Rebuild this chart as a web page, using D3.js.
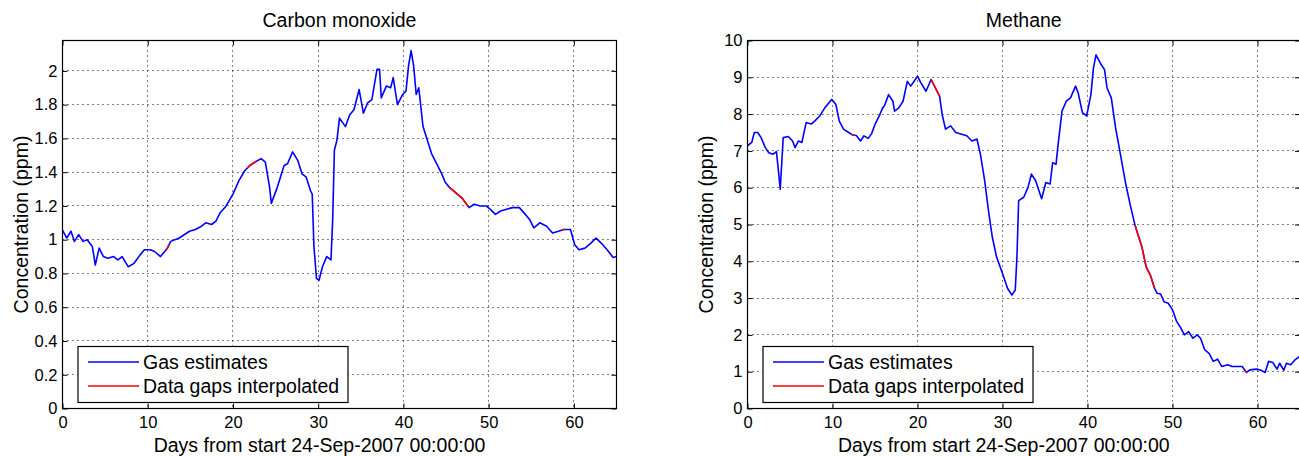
<!DOCTYPE html>
<html>
<head>
<meta charset="utf-8">
<script src="https://cdn.jsdelivr.net/npm/d3@7"></script>
<style>
  body { margin: 0; background: #fff; }
  svg { display: block; font-family: "Liberation Sans", Arial, sans-serif; }
</style>
</head>
<body>
<svg id="chart" width="1299" height="456"></svg>
<script>
// Shared axis ticks
const xTicks = [0, 10, 20, 30, 40, 50, 60];
const coTicks = [0, 0.2, 0.4, 0.6, 0.8, 1, 1.2, 1.4, 1.6, 1.8, 2];
const ch4Ticks = [0, 1, 2, 3, 4, 5, 6, 7, 8, 9, 10];
const legendLabels = ["Gas estimates", "Data gaps interpolated"];

// Carbon monoxide (ppm) vs day
const coDays = [
  0, 0.5, 1, 1.4, 1.9, 2.4, 2.9, 3.5, 3.85, 4.3,
  4.8, 5.3, 6, 6.5, 7, 7.7, 8.4, 9.1, 9.6, 10.3,
  10.8, 11.5, 12.3, 12.7, 13.7, 14.9, 15.6, 16.3, 16.8, 17.5,
  18, 18.5, 19.2, 20, 20.7, 21.4, 22, 22.6, 23.3, 23.8,
  24.3, 24.5, 25.2, 26, 26.4, 27, 27.6, 28.1, 28.6, 29.1,
  29.3, 29.5, 29.8, 30.1, 30.5, 31, 31.5, 31.7, 31.9, 32.2,
  32.5, 33.2, 33.7, 34.2, 34.8, 35.3, 35.8, 36.3, 36.9, 37.2,
  37.4, 38, 38.5, 38.8, 39.3, 39.9, 40.3, 40.6, 40.9, 41.2,
  41.5, 41.8, 42.3, 42.8, 43.3, 44, 44.5, 44.9, 45.4, 46.9,
  47.7, 48.3, 49, 49.7, 50.2, 50.8, 51.4, 52.1, 52.8, 53.6,
  54.3, 54.8, 55.3, 56, 56.8, 57.5, 58.2, 58.8, 59.6, 60.1,
  60.6, 61.3, 62, 62.6, 63.2, 63.9, 64.6, 65
];
const coValues = [
  1.057, 1.01, 1.05, 0.99, 1.03, 0.99, 1.0, 0.96, 0.85, 0.95,
  0.90, 0.89, 0.90, 0.88, 0.90, 0.84, 0.86, 0.91, 0.94, 0.94,
  0.93, 0.90, 0.95, 0.99, 1.01, 1.05, 1.06, 1.08, 1.10, 1.09,
  1.11, 1.16, 1.20, 1.27, 1.35, 1.41, 1.44, 1.46, 1.48, 1.46,
  1.31, 1.215, 1.31, 1.44, 1.45, 1.52, 1.47, 1.39, 1.37, 1.29,
  1.27, 0.96, 0.77, 0.76, 0.84, 0.90, 0.88, 1.12, 1.53, 1.59,
  1.72, 1.67, 1.74, 1.77, 1.89, 1.75, 1.81, 1.83, 2.01, 2.01,
  1.84, 1.91, 1.90, 1.96, 1.80, 1.86, 1.88, 2.03, 2.12, 2.03,
  1.86, 1.90, 1.67, 1.59, 1.51, 1.44, 1.39, 1.34, 1.31, 1.245,
  1.19, 1.21, 1.20, 1.20, 1.18, 1.15, 1.17, 1.18, 1.19, 1.19,
  1.15, 1.12, 1.07, 1.10, 1.08, 1.04, 1.05, 1.06, 1.06, 0.97,
  0.94, 0.95, 0.98, 1.01, 0.98, 0.94, 0.895, 0.90
];
const coGaps = [[12.2, 12.5], [21.7, 22.8], [45.4, 47.6], [58.6, 58.9]];

// Methane (ppm) vs day
const ch4Days = [
  0, 0.5, 0.8, 1.2, 1.6, 2.1, 2.5, 3, 3.4, 3.6,
  3.85, 4, 4.2, 4.8, 5.3, 5.6, 6, 6.4, 6.9, 7.5,
  7.9, 8.5, 9.1, 9.9, 10.4, 10.8, 11.3, 11.9, 12.4, 12.8,
  13.3, 13.7, 14.2, 14.6, 15, 15.5, 15.9, 16.1, 16.6, 17.1,
  17.3, 17.8, 18.3, 18.8, 19.2, 20, 20.4, 21, 21.6, 22.6,
  22.9, 23.3, 23.9, 24.5, 25.2, 25.8, 26.4, 27, 27.4, 27.9,
  28.4, 28.8, 29.3, 30, 30.6, 31.1, 31.5, 31.7, 31.9, 32.5,
  33, 33.4, 33.9, 34.6, 35.1, 35.6, 35.9, 36.3, 36.5, 37,
  37.5, 38, 38.6, 38.9, 39.4, 39.9, 40.4, 40.7, 41, 41.5,
  42, 42.3, 42.8, 43.3, 43.8, 44.5, 45, 45.6, 46.4, 46.9,
  47.4, 47.9, 48.2, 48.6, 49, 49.5, 50, 50.5, 51, 51.4,
  51.9, 52.4, 52.9, 53.3, 53.8, 54.3, 54.8, 55.3, 55.8, 56.5,
  57, 57.7, 58.2, 58.7, 59.1, 59.9, 60.4, 60.9, 61.3, 61.8,
  62.3, 62.6, 63.1, 63.4, 63.9, 64.4, 65
];
const ch4Values = [
  7.14, 7.23, 7.5, 7.5, 7.36, 7.09, 6.95, 6.91, 6.98, 6.55,
  5.96, 6.55, 7.36, 7.39, 7.27, 7.09, 7.27, 7.23, 7.77, 7.73,
  7.81, 7.95, 8.17, 8.40, 8.26, 7.81, 7.59, 7.5, 7.43, 7.42,
  7.27, 7.41, 7.34, 7.47, 7.72, 7.95, 8.17, 8.22, 8.53, 8.35,
  8.08, 8.17, 8.35, 8.89, 8.76, 9.03, 8.85, 8.62, 8.94, 8.49,
  7.99, 7.59, 7.68, 7.5, 7.45, 7.41, 7.27, 7.32, 6.91, 6.19,
  5.29, 4.66, 4.12, 3.67, 3.26, 3.08, 3.22, 4.12, 5.65, 5.74,
  6.01, 6.37, 6.19, 5.70, 6.14, 6.10, 6.68, 6.64, 7.09, 8.08,
  8.35, 8.44, 8.76, 8.58, 8.04, 7.95, 8.53, 9.25, 9.61, 9.39,
  9.21, 8.71, 8.44, 7.63, 7.0, 6.10, 5.56, 4.97, 4.39, 3.85,
  3.62, 3.26, 3.13, 3.11, 2.9, 2.86, 2.68, 2.36, 2.18, 2.0,
  2.09, 1.91, 2.0, 1.91, 1.59, 1.5, 1.28, 1.34, 1.14, 1.19,
  1.14, 1.14, 1.14, 0.98, 1.05, 1.07, 1.04, 0.98, 1.28, 1.25,
  1.07, 1.23, 1.04, 1.23, 1.19, 1.32, 1.42
];
const ch4Gaps = [[12.3, 12.6], [21.6, 22.6], [45.6, 47.9], [58.6, 58.8]];

const svg = d3.select("#chart");
const TICK_FONT = "16.5px";
const TEXT_FONT = "19.5px";
const BLUE = "#0000ff";
const RED = "#ff0000";

// Returns the points of a series between a and b, with interpolated ends
function gapPoints(days, values, a, b) {
  const interp = d => {
    const i = Math.max(1, Math.min(days.length - 1, d3.bisectLeft(days, d)));
    const t = (d - days[i - 1]) / (days[i] - days[i - 1]);
    return values[i - 1] + t * (values[i] - values[i - 1]);
  };
  const pts = [[a, interp(a)]];
  days.forEach((d, i) => {
    if (d > a && d < b) pts.push([d, values[i]]);
  });
  pts.push([b, interp(b)]);
  return pts;
}

function drawPanel(cfg) {
  const top = 40.5, bottom = 408.5;
  const x = d3.scaleLinear().domain([0, 65]).range([cfg.left, cfg.right]);
  const y = d3.scaleLinear().domain(cfg.yDomain).range([bottom, top]);
  const g = svg.append("g");
  const snap = v => Math.round(v - 0.5) + 0.5;

  // dotted grid
  g.append("g").selectAll("line")
    .data(xTicks.filter(d => d > 0 && d < 65))
    .join("line")
    .attr("x1", d => snap(x(d))).attr("x2", d => snap(x(d)))
    .attr("y1", top).attr("y2", bottom)
    .attr("stroke", "#000").attr("stroke-dasharray", "1,4");
  g.append("g").selectAll("line")
    .data(cfg.yTicks.filter(d => d > cfg.yDomain[0] && d < cfg.yDomain[1]))
    .join("line")
    .attr("x1", cfg.left).attr("x2", cfg.right)
    .attr("y1", d => snap(y(d))).attr("y2", d => snap(y(d)))
    .attr("stroke", "#000").attr("stroke-dasharray", "1,4");

  // series
  const line = d3.line().x(d => x(d[0])).y(d => y(d[1]));
  const pts = cfg.days.map((d, i) => [d, cfg.values[i]]);
  g.append("path").datum(pts)
    .attr("d", line).attr("fill", "none")
    .attr("stroke", BLUE).attr("stroke-width", 1.6).attr("stroke-linejoin", "round");
  cfg.gaps.forEach(([a, b]) => {
    g.append("path").datum(gapPoints(cfg.days, cfg.values, a, b))
      .attr("d", line).attr("fill", "none")
      .attr("stroke", RED).attr("stroke-width", 1.6);
  });

  // axes, MATLAB style ticks inside on all four sides
  const styleAxis = sel => {
    sel.select(".domain").remove();
    sel.selectAll("line").attr("stroke", "#000");
    sel.selectAll("text").attr("fill", "#000").style("font-size", TICK_FONT)
      .style("font-family", "Liberation Sans, Arial, sans-serif");
  };
  g.append("g").attr("transform", `translate(0,${bottom})`)
    .call(d3.axisBottom(x).tickValues(xTicks).tickSizeInner(-5).tickSizeOuter(0).tickPadding(8))
    .call(styleAxis);
  g.append("g").attr("transform", `translate(0,${top})`)
    .call(d3.axisTop(x).tickValues(xTicks).tickSizeInner(-5).tickSizeOuter(0).tickFormat(""))
    .call(styleAxis);
  g.append("g").attr("transform", `translate(${cfg.left},0)`)
    .call(d3.axisLeft(y).tickValues(cfg.yTicks).tickSizeInner(-5).tickSizeOuter(0).tickPadding(5)
      .tickFormat(d => String(+d.toFixed(1))))
    .call(styleAxis);
  g.append("g").attr("transform", `translate(${cfg.right},0)`)
    .call(d3.axisRight(y).tickValues(cfg.yTicks).tickSizeInner(-5).tickSizeOuter(0).tickFormat(""))
    .call(styleAxis);

  // box
  g.append("rect")
    .attr("x", cfg.left).attr("y", top)
    .attr("width", cfg.right - cfg.left).attr("height", bottom - top)
    .attr("fill", "none").attr("stroke", "#000").attr("stroke-width", 1.2);

  // title and axis labels (x label sits a little left of centre in the original)
  const cx = (cfg.left + cfg.right) / 2;
  g.append("text").attr("x", cx).attr("y", 27)
    .attr("text-anchor", "middle").style("font-size", TEXT_FONT).text(cfg.title);
  g.append("text").attr("x", cx - 20).attr("y", 452)
    .attr("text-anchor", "middle").style("font-size", TEXT_FONT)
    .text("Days from start 24-Sep-2007 00:00:00");
  g.append("text")
    .attr("transform", `translate(${cfg.left - 42},${(top + bottom) / 2}) rotate(-90)`)
    .attr("text-anchor", "middle").attr("dominant-baseline", "central")
    .style("font-size", TEXT_FONT).text("Concentration (ppm)");

  // legend
  const lx = cfg.left + 15.5, ly = 346.5;
  const leg = g.append("g");
  leg.append("rect").attr("x", lx).attr("y", ly).attr("width", 270).attr("height", 56)
    .attr("fill", "#fff").attr("stroke", "#000").attr("stroke-width", 1.2);
  [BLUE, RED].forEach((c, i) => {
    const yy = ly + 15.5 + i * 24;
    leg.append("line").attr("x1", lx + 10).attr("x2", lx + 61)
      .attr("y1", yy).attr("y2", yy).attr("stroke", c).attr("stroke-width", 1.6);
    leg.append("text").attr("x", lx + 65).attr("y", yy)
      .attr("dominant-baseline", "central").style("font-size", TEXT_FONT)
      .text(legendLabels[i]);
  });
}

drawPanel({
  title: "Carbon monoxide", left: 62.5, right: 616.5, yDomain: [0, 2.18], yTicks: coTicks,
  days: coDays, values: coValues, gaps: coGaps
});
drawPanel({
  title: "Methane", left: 747.5, right: 1300, yDomain: [0, 10], yTicks: ch4Ticks,
  days: ch4Days, values: ch4Values, gaps: ch4Gaps
});
</script>
</body>
</html>
